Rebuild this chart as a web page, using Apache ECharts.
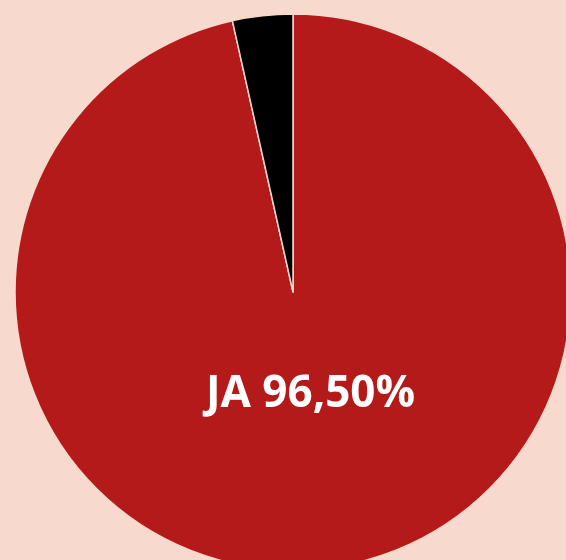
<!DOCTYPE html>
<html>
<head>
<meta charset="utf-8">
<script src="https://cdn.jsdelivr.net/npm/echarts@6/dist/echarts.min.js"></script>
<style>
  html, body { margin: 0; padding: 0; background: #f7d9cd; }
  #chart { width: 566px; height: 560px; }
</style>
</head>
<body>
<div id="chart"></div>
<script>
const sliceNames = ['JA', 'NEE'];
const sliceValues = [96.5, 3.5];
const sliceColors = ['#b41a19', '#000000'];

const pctFmt = new Intl.NumberFormat('de-DE', { minimumFractionDigits: 2, maximumFractionDigits: 2 });

const chart = echarts.init(document.getElementById('chart'));

chart.setOption({
  backgroundColor: '#f7d9cd',
  animation: false,
  series: [
    {
      type: 'pie',
      center: [293, 292],
      radius: 278,
      startAngle: 90,
      clockwise: true,
      itemStyle: {
        borderColor: '#f7d9cd',
        borderWidth: 1.5
      },
      labelLine: { show: false },
      data: sliceNames.map(function (name, i) {
        return {
          name,
          value: sliceValues[i],
          itemStyle: { color: sliceColors[i] },
          label: {
            show: i === 0,
            position: 'inside',
            offset: [2, -39],
            formatter: function (p) { return `${p.name} ${pctFmt.format(p.value)}%`; },
            color: '#ffffff',
            fontFamily: 'Open Sans',
            fontWeight: 'bold',
            fontSize: 44
          }
        };
      })
    }
  ]
});
</script>
</body>
</html>
